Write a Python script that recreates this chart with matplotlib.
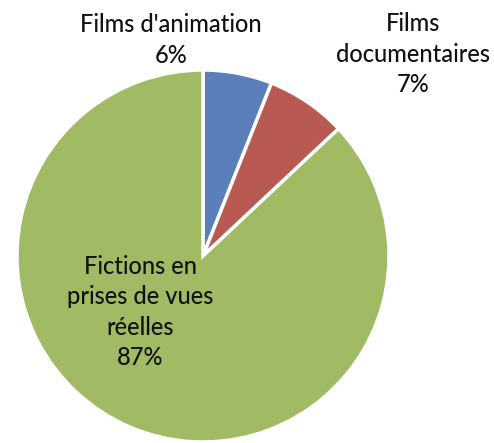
import matplotlib.pyplot as plt

# data
categories = ["Films d'animation", "Films\ndocumentaires", "Fictions en\nprises de vues\nréelles"]
shares = [6, 7, 87]
colors = ["#5A7FBB", "#B85952", "#A1BB65"]

# label positions in pixel coords (x, y from top)
label_pos = [(171, 40), (413, 54), (140, 312)]

plt.rcParams['font.family'] = ['Lato', 'DejaVu Sans']

fig = plt.figure(figsize=(4.94, 4.43), dpi=100)
ax = fig.add_axes([0, 0, 1, 1])

ax.pie(shares, colors=colors, startangle=90, counterclock=False,
       center=(203, 443 - 256), radius=186, frame=True,
       wedgeprops=dict(edgecolor='white', linewidth=2.5))
ax.set_xlim(0, 494)
ax.set_ylim(0, 443)
ax.set_aspect('equal')
ax.axis('off')

for name, val, (x, y) in zip(categories, shares, label_pos):
    ax.text(x, 443 - y, f"{name}\n{val}%", ha='center', va='center',
            fontsize=17, color='#111111', linespacing=1.4, fontweight='medium')

fig.savefig("out.png", dpi=100)
